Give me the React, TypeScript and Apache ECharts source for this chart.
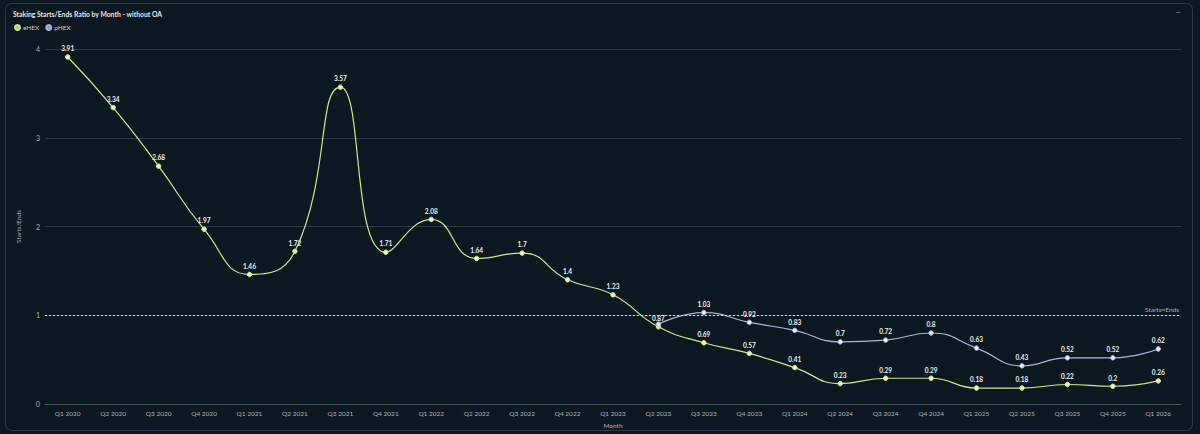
import React, { useEffect, useRef } from "react";
import * as echarts from "echarts";

const categories = [
  "Q1 2020", "Q2 2020", "Q3 2020", "Q4 2020",
  "Q1 2021", "Q2 2021", "Q3 2021", "Q4 2021",
  "Q1 2022", "Q2 2022", "Q3 2022", "Q4 2022",
  "Q1 2023", "Q2 2023", "Q3 2023", "Q4 2023",
  "Q1 2024", "Q2 2024", "Q3 2024", "Q4 2024",
  "Q1 2025", "Q2 2025", "Q3 2025", "Q4 2025",
  "Q1 2026",
];

const eHEX = [
  3.91, 3.34, 2.68, 1.97,
  1.46, 1.72, 3.57, 1.71,
  2.08, 1.64, 1.7, 1.4,
  1.23, 0.87, 0.69, 0.57,
  0.41, 0.23, 0.29, 0.29,
  0.18, 0.18, 0.22, 0.2,
  0.26,
];

const pHEX: (number | null)[] = [
  null, null, null, null,
  null, null, null, null,
  null, null, null, null,
  null, 0.9, 1.03, 0.92,
  0.83, 0.7, 0.72, 0.8,
  0.63, 0.43, 0.52, 0.52,
  0.62,
];

// index whose label is hidden in the reference (overlaps eHEX label)
const pHEXHiddenLabels = [13];

const yTicks = [0, 1, 2, 3, 4];

export default function App() {
  const ref = useRef<HTMLDivElement>(null);

  useEffect(() => {
    document.body.style.margin = "0";
    const chart = echarts.init(ref.current!, null, { renderer: "svg" });
    const font = "Lato, 'Noto Sans', sans-serif";
    const green = "#cde88a";
    const lav = "#adb3dd";
    const fs = 6.5;

    const pData = pHEX.map((v, i) =>
      pHEXHiddenLabels.includes(i) ? { value: v, label: { show: false } } : v
    );

    const dataLabel = {
      show: true,
      position: "top",
      distance: 2,
      color: "#eef0f2",
      fontSize: fs,
      fontWeight: "bold",
      fontFamily: font,
    };

    chart.setOption({
      animation: false,
      backgroundColor: "#0b1821",
      textStyle: { fontFamily: font },
      title: {
        text: "Staking Starts/Ends Ratio by Month - without OA",
        left: 8,
        top: 5,
        textStyle: { color: "#e4e8ea", fontSize: 6.8, fontWeight: "bold", fontFamily: font },
      },
      legend: {
        left: 9,
        top: 19,
        itemWidth: 5,
        itemHeight: 5,
        itemGap: 6,
        icon: "circle",
        textStyle: { color: "#c8cdd0", fontSize: fs, fontFamily: font, padding: [0, 0, 0, -2] },
        data: [
          { name: "eHEX", itemStyle: { color: "#a9cc6a" } },
          { name: "pHEX", itemStyle: { color: "#8f95b8" } },
        ],
      },
      grid: { left: 45, right: 19, top: 49, bottom: 30, containLabel: false },
      xAxis: {
        type: "category",
        data: categories,
        boundaryGap: true,
        name: "Month",
        nameLocation: "middle",
        nameGap: 17,
        nameTextStyle: { color: "#aab2b8", fontSize: fs, fontFamily: font },
        axisLine: { lineStyle: { color: "#4a5862" } },
        axisTick: { show: false },
        axisLabel: { color: "#aab2b8", fontSize: fs, margin: 6, interval: 0, fontFamily: font },
      },
      yAxis: {
        type: "value",
        min: 0,
        max: 4,
        interval: 1,
        name: "Starts/Ends",
        nameLocation: "middle",
        nameGap: 23,
        nameTextStyle: { color: "#aab2b8", fontSize: fs, fontFamily: font },
        axisLine: { show: false },
        axisTick: { show: false },
        axisLabel: {
          color: "#aab2b8",
          fontSize: fs + 0.5,
          margin: 5,
          fontFamily: font,
          formatter: (v: number) => (yTicks.includes(v) ? String(v) : ""),
        },
        splitLine: { lineStyle: { color: "#2b3a44", width: 1 } },
      },
      series: [
        {
          name: "eHEX",
          type: "line",
          data: eHEX,
          smooth: 0.5,
          color: green,
          lineStyle: { color: green, width: 1.2 },
          symbol: "circle",
          symbolSize: 4.5,
          itemStyle: { color: "#e8f5c4", borderColor: green, borderWidth: 1 },
          label: dataLabel,
          markLine: {
            silent: true,
            symbol: "none",
            data: [{ yAxis: 1 }],
            lineStyle: { color: "#d8dde0", type: [2, 2], width: 1 },
            label: {
              show: true,
              position: "insideEndTop",
              formatter: "Starts=Ends",
              color: "#aab2b8",
              fontSize: fs,
              fontFamily: font,
              distance: 2,
            },
          },
        },
        {
          name: "pHEX",
          type: "line",
          data: pData,
          smooth: 0.5,
          color: lav,
          lineStyle: { color: lav, width: 1.2 },
          symbol: "circle",
          symbolSize: 4.5,
          itemStyle: { color: "#eef0fa", borderColor: lav, borderWidth: 1 },
          label: dataLabel,
        },
      ],
      graphic: [
        {
          type: "rect",
          silent: true,
          z: -1,
          shape: { x: 5.5, y: 3.5, width: 1187, height: 427, r: 6 },
          style: { fill: "none", stroke: "#2c3d48", lineWidth: 1 },
        },
        {
          type: "text",
          x: 1176,
          y: 10,
          style: { text: "•••", fill: "#8a949a", font: "4px sans-serif" },
        },
      ],
    });

    return () => chart.dispose();
  }, []);

  return <div ref={ref} style={{ width: 1200, height: 434, background: "#0b1821" }} />;
}
